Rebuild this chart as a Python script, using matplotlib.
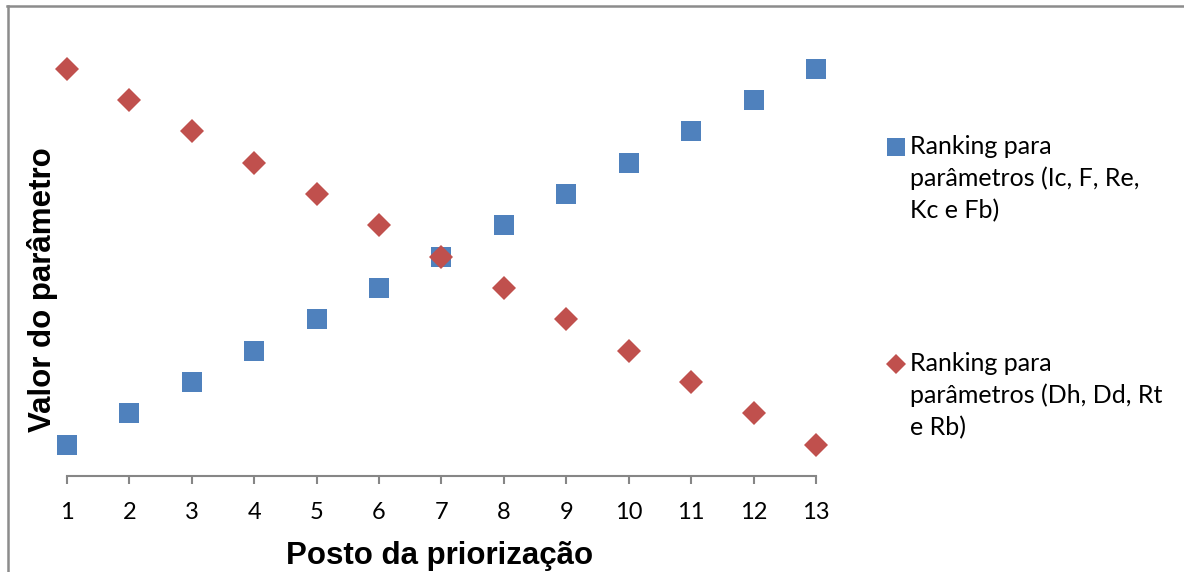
import matplotlib
matplotlib.use("Agg")
import matplotlib.pyplot as plt
from matplotlib.lines import Line2D

# data
posto = [1, 2, 3, 4, 5, 6, 7, 8, 9, 10, 11, 12, 13]
ranking_ic = [1, 2, 3, 4, 5, 6, 7, 8, 9, 10, 11, 12, 13]
ranking_dh = [13, 12, 11, 10, 9, 8, 7, 6, 5, 4, 3, 2, 1]
xticks = [1, 2, 3, 4, 5, 6, 7, 8, 9, 10, 11, 12, 13]

label_ic = "Ranking para\nparâmetros (Ic, F, Re,\nKc e Fb)"
label_dh = "Ranking para\nparâmetros (Dh, Dd, Rt\ne Rb)"

blue = '#4F81BD'
red = '#C0504D'
gray = '#868686'

W, H = 1184, 572
fig = plt.figure(figsize=(W / 100, H / 100), dpi=100)

# axes placed in pixel terms: x 67..816, y 476 (0) .. 37.4 (14)
ax = fig.add_axes([67 / W, 1 - 476 / H, (816 - 67) / W, (476 - 37.4) / H])

ax.plot(posto, ranking_ic, linestyle='none', marker='s', markersize=15,
        color=blue, markeredgewidth=0, clip_on=False, zorder=3)
ax.plot(posto, ranking_dh, linestyle='none', marker='D', markersize=12.5,
        color=red, markeredgewidth=0, clip_on=False, zorder=4)

ax.set_xlim(1, 13)
ax.set_ylim(0, 14)
ax.set_xticks(xticks)
ax.set_xticklabels([str(t) for t in xticks], fontsize=17, family='Lato')
ax.set_yticks([])

for s in ['top', 'right', 'left']:
    ax.spines[s].set_visible(False)
ax.spines['bottom'].set_color(gray)
ax.spines['bottom'].set_linewidth(1.5)
ax.tick_params(axis='x', direction='out', length=5.5, width=1.5, color=gray,
               pad=13, labelcolor='black')

ax.set_xlabel('Posto da priorização', fontsize=22.5, fontweight='bold',
              family='Liberation Sans')
ax.xaxis.set_label_coords(0.4975, -0.148)
ax.set_ylabel('Valor do parâmetro', fontsize=22.5, fontweight='bold',
              family='Liberation Sans')
ax.yaxis.set_label_coords(-0.012, 0.5 + (256 - 289) / (476 - 37.4))

# legend drawn by hand so the marker sits on the first line
fig.add_artist(Line2D([896 / W], [1 - 147 / H], marker='s', markersize=12.7,
                      color=blue, markeredgewidth=0, transform=fig.transFigure))
fig.add_artist(Line2D([896 / W], [1 - 364 / H], marker='D', markersize=10.5,
                      color=red, markeredgewidth=0, transform=fig.transFigure))
fig.text(910 / W, 1 - 135 / H, label_ic, fontsize=18, family='Lato',
         va='top', ha='left', linespacing=1.45)
fig.text(910 / W, 1 - 352 / H, label_dh, fontsize=18, family='Lato',
         va='top', ha='left', linespacing=1.45)

# outer frame (top and left visible)
fig.add_artist(Line2D([7 / W, 1.0], [1 - 5.5 / H, 1 - 5.5 / H], color='#8c8c8c',
                      linewidth=1.8, transform=fig.transFigure))
fig.add_artist(Line2D([7.5 / W, 7.5 / W], [0, 1 - 5.5 / H], color='#8c8c8c',
                      linewidth=1.8, transform=fig.transFigure))

fig.savefig('out.png', dpi=100)
